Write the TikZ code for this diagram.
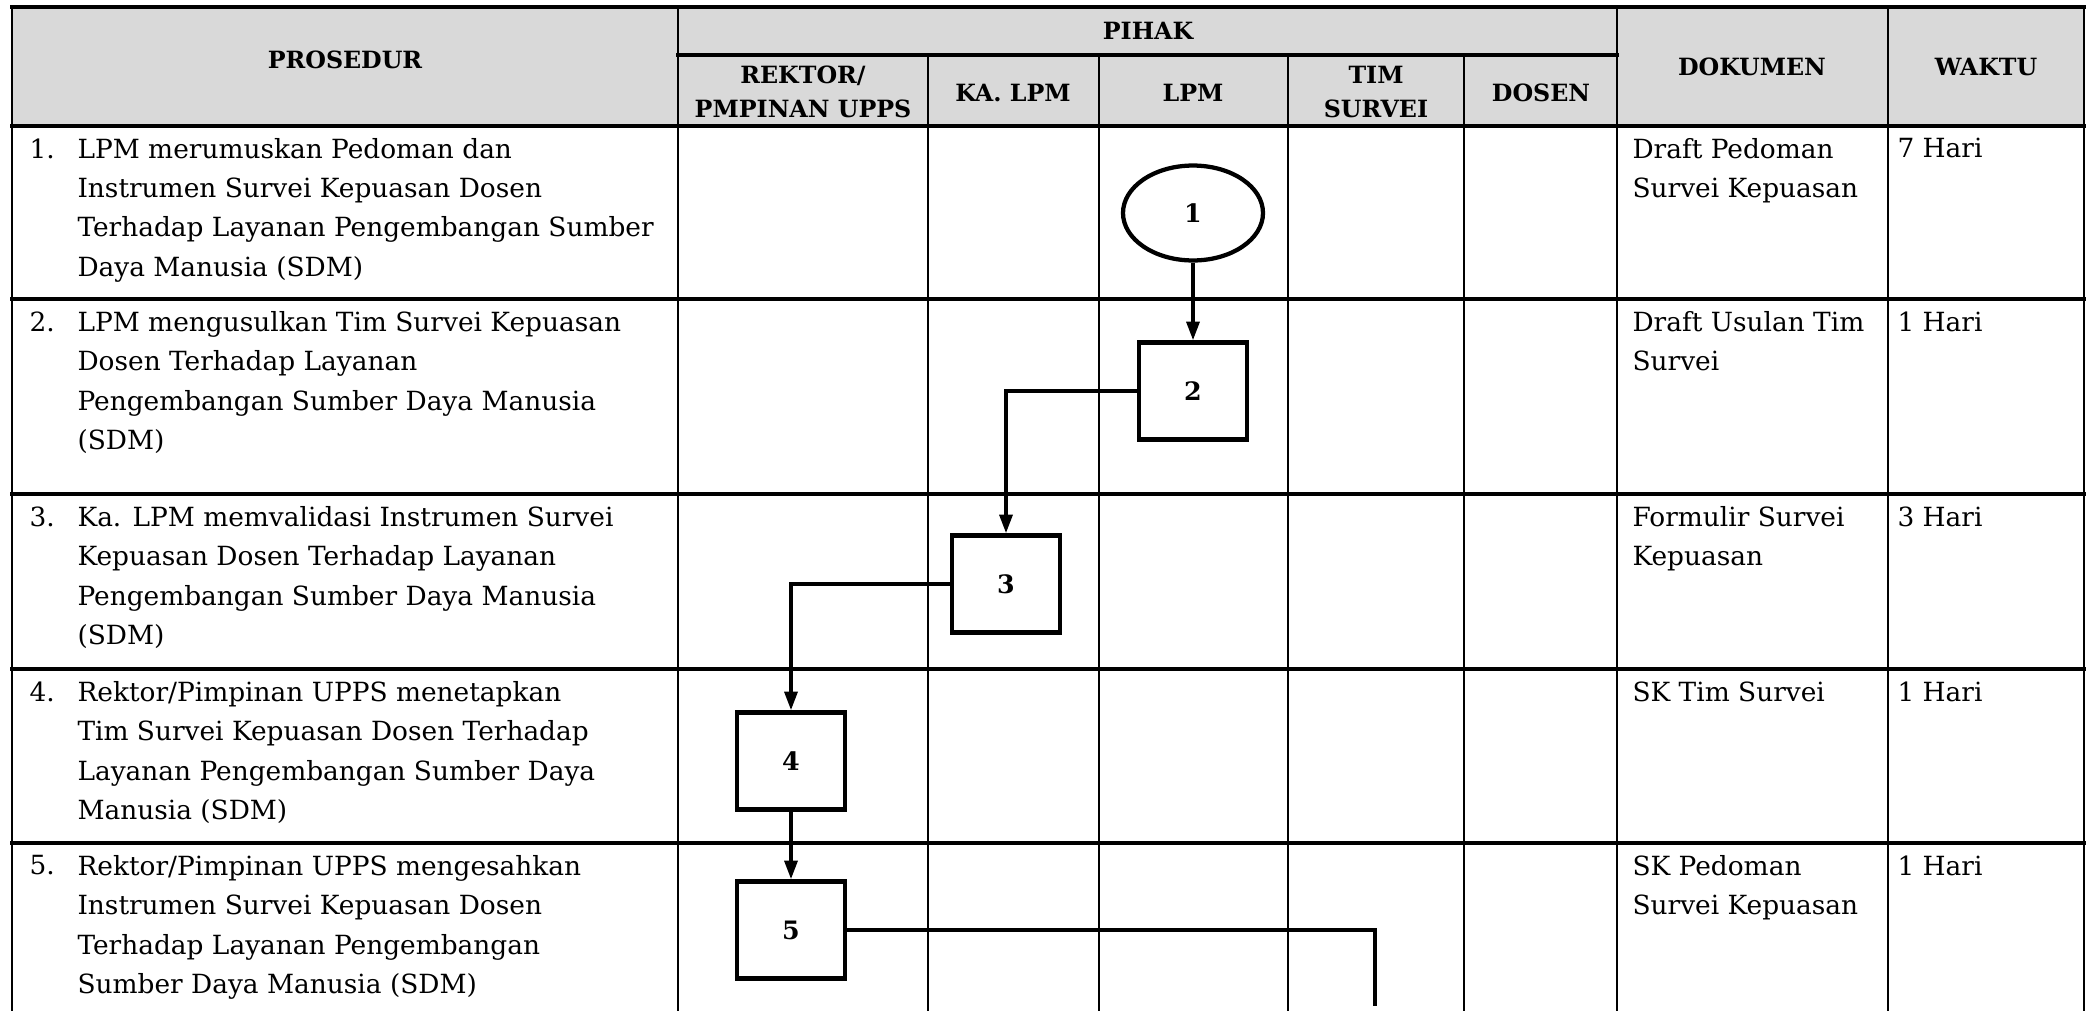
\documentclass[tikz,border=0pt]{standalone}
\usepackage{fontspec}
\setmainfont{DejaVu Serif}
\usepackage{tikz}
\usepackage{xcolor}
\usetikzlibrary{shapes.geometric,arrows.meta}
\definecolor{headgray}{RGB}{217,217,217}

\begin{document}
\begin{tikzpicture}[
    x=0.375pt, y=-0.375pt,
    hline/.style={line width=1.2pt, line cap=rect},
    vline/.style={line width=0.8pt},
    head/.style={align=center, font=\bfseries\fontsize{8.9}{13}\selectfont, inner sep=0pt},
    txt/.style={anchor=north west, align=left, font=\fontsize{9.9}{14.7}\selectfont, inner sep=0pt},
    proc/.style={
        rectangle, draw, line width=1.6pt,
        minimum width=40.5pt, minimum height=36.4pt, inner sep=0pt,
        font=\bfseries\fontsize{9.5}{11}\selectfont
    },
    term/.style={
        ellipse, draw, line width=1.6pt,
        minimum width=52.5pt, minimum height=35.6pt, inner sep=0pt,
        font=\bfseries\fontsize{9.5}{11}\selectfont
    },
    arrow/.style={-{Stealth[length=7pt,width=4.8pt,inset=0pt]}, line width=1.4pt},
    link/.style={line width=1.4pt}
]
\useasboundingbox (0,0) rectangle (2092,1011);

% Header
\fill[headgray] (12,7) rectangle (2084,126);
\node[head] (hpros) at (345, 60)  {PROSEDUR};
\node[head] (hpihak) at (1148, 31) {PIHAK};
\node[head] (hrek) at (803, 92)  {REKTOR/\\PMPINAN UPPS};
\node[head] (hka) at (1013, 93)  {KA. LPM};
\node[head] (hlpm) at (1193, 93) {LPM};
\node[head] (htim) at (1376, 92) {TIM\\SURVEI};
\node[head] (hdos) at (1541, 93) {DOSEN};
\node[head] (hdok) at (1752, 67) {DOKUMEN};
\node[head] (hwak) at (1986, 67) {WAKTU};

% Grid
\draw[hline] (12,7) -- (2084,7);
\draw[hline] (678,55) -- (1617,55);
\draw[hline] (12,126) -- (2084,126);
\draw[hline] (12,299) -- (2084,299);
\draw[hline] (12,494) -- (2084,494);
\draw[hline] (12,669) -- (2084,669);
\draw[hline] (12,843) -- (2084,843);
\draw[vline] (12,7) -- (12,1011);
\draw[vline] (678,7) -- (678,1011);
\draw[vline] (928,55) -- (928,1011);
\draw[vline] (1099,55) -- (1099,1011);
\draw[vline] (1288,55) -- (1288,1011);
\draw[vline] (1464,55) -- (1464,1011);
\draw[vline] (1617,7) -- (1617,1011);
\draw[vline] (1888,7) -- (1888,1011);
\draw[vline] (2084,7) -- (2084,1011);

% Prosedur
\node[txt] (n1) at (29, 138) {1.};
\node[txt] (p1) at (77, 138) {LPM merumuskan Pedoman dan\\Instrumen Survei Kepuasan Dosen\\Terhadap Layanan Pengembangan Sumber\\Daya Manusia (SDM)};
\node[txt] (n2) at (29, 311) {2.};
\node[txt] (p2) at (77, 311) {LPM mengusulkan Tim Survei Kepuasan\\Dosen Terhadap Layanan\\Pengembangan Sumber Daya Manusia\\(SDM)};
\node[txt] (n3) at (29, 506) {3.};
\node[txt] (p3) at (77, 506) {Ka. LPM memvalidasi Instrumen Survei\\Kepuasan Dosen Terhadap Layanan\\Pengembangan Sumber Daya Manusia\\(SDM)};
\node[txt] (n4) at (29, 681) {4.};
\node[txt] (p4) at (77, 681) {Rektor/Pimpinan UPPS menetapkan\\Tim Survei Kepuasan Dosen Terhadap\\Layanan Pengembangan Sumber Daya\\Manusia (SDM)};
\node[txt] (n5) at (29, 855) {5.};
\node[txt] (p5) at (77, 855) {Rektor/Pimpinan UPPS mengesahkan\\Instrumen Survei Kepuasan Dosen\\Terhadap Layanan Pengembangan\\Sumber Daya Manusia (SDM)};

% Dokumen dan waktu
\node[txt] (d1) at (1632, 138) {Draft Pedoman\\Survei Kepuasan};
\node[txt] (w1) at (1897, 138) {7 Hari};
\node[txt] (d2) at (1632, 311) {Draft Usulan Tim\\Survei};
\node[txt] (w2) at (1897, 311) {1 Hari};
\node[txt] (d3) at (1632, 506) {Formulir Survei\\Kepuasan};
\node[txt] (w3) at (1897, 506) {3 Hari};
\node[txt] (d4) at (1632, 681) {SK Tim Survei};
\node[txt] (w4) at (1897, 681) {1 Hari};
\node[txt] (d5) at (1632, 855) {SK Pedoman\\Survei Kepuasan};
\node[txt] (w5) at (1897, 855) {1 Hari};

% Flow
\node[term] (s1) at (1193, 213) {1};
\node[proc] (s2) at (1193, 391) {2};
\node[proc] (s3) at (1006, 584) {3};
\node[proc] (s4) at (791, 761)  {4};
\node[proc] (s5) at (791, 930)  {5};
\coordinate (c5) at (1375, 1006);

\draw[arrow] (s1) -- (s2);
\draw[arrow] (s2.west) -| (s3.north);
\draw[arrow] (s3.west) -| (s4.north);
\draw[arrow] (s4) -- (s5);
\draw[link] (s5.east) -| (c5);

\end{tikzpicture}
\end{document}
